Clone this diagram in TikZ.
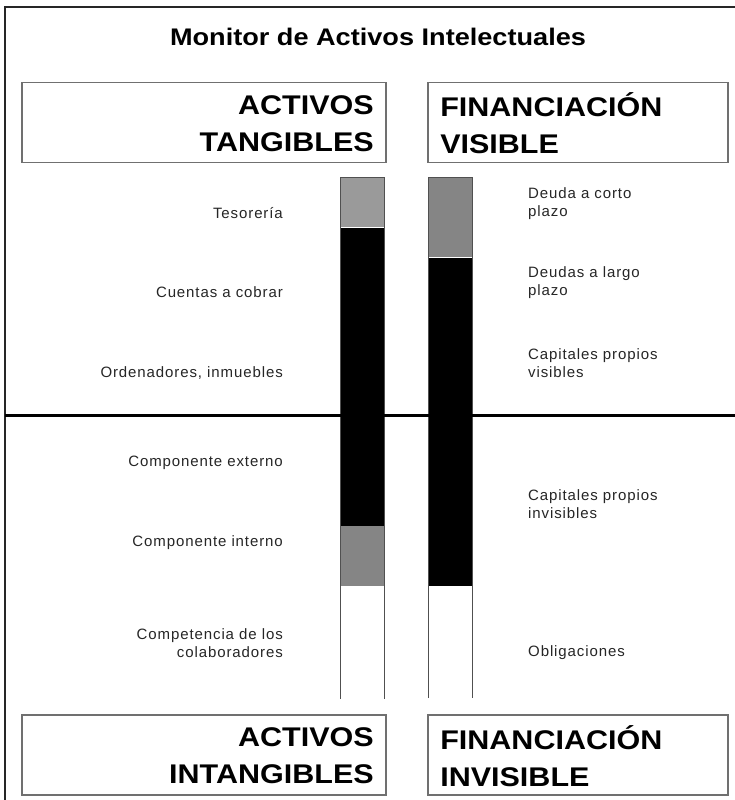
\documentclass[tikz,border=0pt]{standalone}
\usepackage{fontspec}
\setmainfont{Liberation Sans}
\newfontfamily\labfont[LetterSpace=6]{Liberation Sans}
\newfontfamily\widefont[FakeStretch=1.13]{Liberation Sans}
\definecolor{boxline}{HTML}{707070}
\definecolor{barline}{HTML}{505050}
\definecolor{lightg}{HTML}{9A9A9A}
\definecolor{darkg}{HTML}{858585}
\tikzset{
  hbox/.style={draw=boxline, line width=1.8pt, rectangle, inner sep=0pt, minimum width=#1, minimum height=80},
  htext/.style={font=\widefont\bfseries\fontsize{27}{37}\selectfont, inner sep=0pt, text=black},
  seg/.style={rectangle, draw=none, inner sep=0pt, minimum width=44},
  lab/.style={font=\labfont\fontsize{15}{18}\selectfont, text=black!85, inner sep=0pt},
}
\begin{document}
\begin{tikzpicture}[x=1pt,y=-1pt]
\useasboundingbox (0,0) rectangle (735,800);
\fill[white] (0,0) rectangle (735,800);
\draw[line width=2pt, black!85] (5,800) -- (5,7) -- (735,7);
\node[font=\widefont\bfseries\fontsize{24}{28}\selectfont, inner sep=0pt] (title) at (378,37) {Monitor de Activos Intelectuales};
% header boxes
\node[hbox=364] (tl) at (204,122.5) {};
\node[hbox=300] (tr) at (578,122.5) {};
\node[hbox=364] (bl) at (204,755) {};
\node[hbox=300] (br) at (578,755) {};
\node[htext, anchor=east, align=right] (tlt) at ([xshift=-13pt, yshift=-1pt]tl.east) {ACTIVOS\\TANGIBLES};
\node[htext, anchor=west, align=left] (trt) at ([xshift=13pt, yshift=-1pt]tr.west) {FINANCIACIÓN\\VISIBLE};
\node[htext, anchor=east, align=right] (blt) at ([xshift=-13pt, yshift=-1pt]bl.east) {ACTIVOS\\INTANGIBLES};
\node[htext, anchor=west, align=left] (brt) at ([xshift=13pt, yshift=-1pt]br.west) {FINANCIACIÓN\\INVISIBLE};
% left bar
\node[seg, fill=lightg, minimum height=50, anchor=north west] (l1) at (340,177) {};
\node[seg, fill=black, minimum height=298, anchor=north west] (l2) at (l1.south west) {};
\node[seg, fill=darkg, minimum height=60, anchor=north west] (l3) at (l2.south west) {};
\node[seg, fill=white, minimum height=112, anchor=north west] (l4) at (l3.south west) {};
\draw[barline, line width=1pt] (l4.south west) -- (l1.north west) -- (l1.north east) -- (l4.south east);
% right bar
\node[seg, fill=darkg, minimum height=80, anchor=north west] (r1) at (428,177) {};
\node[seg, fill=black, minimum height=328, anchor=north west] (r2) at (r1.south west) {};
\node[seg, fill=white, minimum height=112, anchor=north west] (r3) at (r2.south west) {};
\draw[barline, line width=1pt] (r3.south west) -- (r1.north west) -- (r1.north east) -- (r3.south east);
% divider
\coordinate (dl) at (5,415);
\coordinate (dr) at (735,415);
\draw[line width=3pt, black] (dl) -- (dr);
% left labels
\node[lab, anchor=east] (tes) at (283,213) {Tesorería};
\node[lab, anchor=east] (cue) at (283,292) {Cuentas a cobrar};
\node[lab, anchor=east] (ord) at (283,373) {Ordenadores, inmuebles};
\node[lab, anchor=east] (ext) at (283,463) {Componente externo};
\node[lab, anchor=east] (int) at (283,543) {Componente interno};
\node[lab, anchor=east, align=right] (com) at (283,643) {Competencia de los\\colaboradores};
% right labels
\node[lab, anchor=west, align=left] (dco) at (528,204) {Deuda a corto\\plazo};
\node[lab, anchor=west, align=left] (dla) at (528,283) {Deudas a largo\\plazo};
\node[lab, anchor=west, align=left] (cpv) at (528,363) {Capitales propios\\visibles};
\node[lab, anchor=west, align=left] (cpi) at (528,504) {Capitales propios\\invisibles};
\node[lab, anchor=west] (obl) at (528,653) {Obligaciones};
\end{tikzpicture}
\end{document}
